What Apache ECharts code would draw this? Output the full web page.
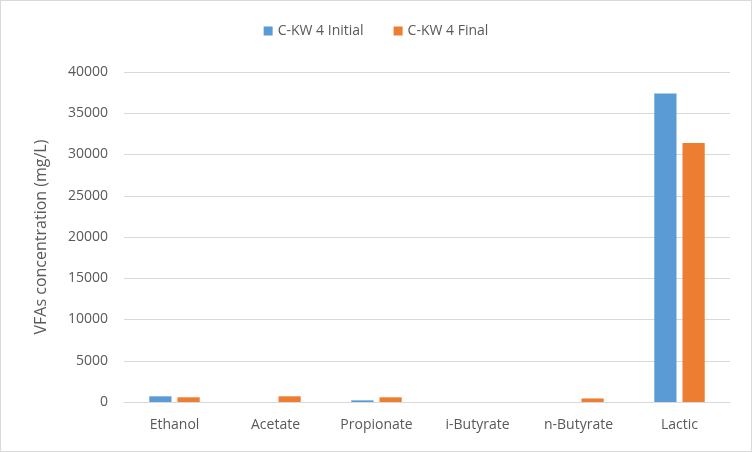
<!DOCTYPE html>
<html>
<head>
<meta charset="utf-8">
<script src="https://cdn.jsdelivr.net/npm/echarts@6/dist/echarts.min.js"></script>
<style>
html,body{margin:0;padding:0;background:#fff;}
#chartBar{width:750px;height:450px;border:1px solid #d9d9d9;}
</style>
</head>
<body>
<div id="chartBar"></div>
<script>
var categories = ['Ethanol', 'Acetate', 'Propionate', 'i-Butyrate', 'n-Butyrate', 'Lactic'];
var initialValues = [690, 0, 200, 0, 0, 37400];
var finalValues = [570, 690, 570, 0, 430, 31400];
var seriesNames = ['C-KW 4 Initial', 'C-KW 4 Final'];

drawBar();
function drawBar(){
	var myChart = echarts.init(document.getElementById('chartBar'));
	var font = 'Open Sans';
	var option = {
		textStyle: {fontFamily: font},
		legend: {
			top: 18,
			left: 'center',
			itemWidth: 9,
			itemHeight: 9,
			itemGap: 30,
			icon: 'rect',
			textStyle: {color: '#595959', fontSize: 14, fontFamily: font},
			data: seriesNames
		},
		grid: {
			top: 71,
			left: 123,
			right: 21,
			bottom: 49,
			containLabel: false
		},
		xAxis: {
			type: 'category',
			data: categories,
			axisLine: {lineStyle: {color: '#d9d9d9'}},
			axisTick: {show: false},
			axisLabel: {color: '#595959', fontSize: 14, margin: 16, fontFamily: font}
		},
		yAxis: {
			type: 'value',
			min: 0,
			max: 40000,
			interval: 5000,
			name: 'VFAs concentration (mg/L)',
			nameLocation: 'middle',
			nameGap: 75,
			nameTextStyle: {color: '#595959', fontSize: 16, fontFamily: font},
			axisLine: {show: false},
			axisTick: {show: false},
			axisLabel: {
				color: '#595959', fontSize: 14, margin: 16, fontFamily: font,
				formatter: function (v) { return String(v); }
			},
			splitLine: {lineStyle: {color: '#d9d9d9'}}
		},
		series: [
			{
				name: seriesNames[0],
				type: 'bar',
				barWidth: '22%',
				barGap: '27%',
				itemStyle: {color: '#5b9bd5'},
				data: initialValues
			},
			{
				name: seriesNames[1],
				type: 'bar',
				barWidth: '22%',
				barGap: '27%',
				itemStyle: {color: '#ed7d31'},
				data: finalValues
			}
		]
	};
	myChart.setOption(option);
}
</script>
</body>
</html>
